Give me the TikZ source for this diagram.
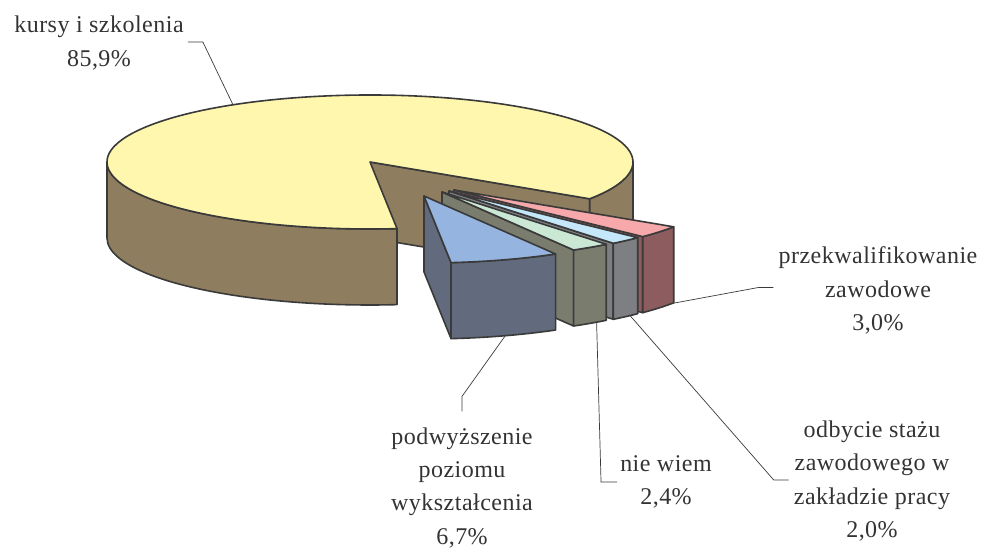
\documentclass[tikz,border=0pt]{standalone}
\usepackage{fontspec}
\setmainfont{Liberation Serif}
\newfontfamily\labelfont[LetterSpace=2]{Liberation Serif}
\usepackage{tikz}
\usetikzlibrary{calc}
\definecolor{kursytop}{HTML}{FFF7AD}
\definecolor{kursyside}{HTML}{8E7D5F}
\definecolor{podwtop}{HTML}{95B4DF}
\definecolor{podwside}{HTML}{626B7D}
\definecolor{niewiemtop}{HTML}{CBE8D5}
\definecolor{niewiemside}{HTML}{7A7C6E}
\definecolor{stazutop}{HTML}{C4E7FA}
\definecolor{stazuside}{HTML}{7D7F82}
\definecolor{przekwtop}{HTML}{F6A8AA}
\definecolor{przekwside}{HTML}{8D5C5F}
\definecolor{edgegray}{HTML}{3A3A3A}
\definecolor{textgray}{HTML}{333333}
\tikzstyle{pie edge}=[draw=edgegray,line width=1.6pt,line join=round]
\tikzstyle{pie radius}=[x radius=263pt,y radius=67pt]
\tikzstyle{label node}=[align=center,text=textgray,inner sep=0pt,font=\labelfont\fontsize{24}{33.3}\selectfont]
\tikzstyle{leader}=[draw=edgegray,line width=0.7pt]

\begin{document}
\begin{tikzpicture}[x=1pt,y=1pt]
\useasboundingbox (0,0) rectangle (981,548);

% big slice
\coordinate (c) at (370,386);
\coordinate (cb) at (370,310);
\draw[pie edge,fill=kursyside] (c) -- ++(-33.34:263pt and 67pt) -- ++(0,-76) -- (cb) -- cycle;
\draw[pie edge,fill=kursyside] ($(c)+(180:263pt and 67pt)$) arc[pie radius,start angle=180,end angle=275.9]
    -- ++(0,-76) arc[pie radius,start angle=275.9,end angle=180] -- cycle;
\draw[pie edge,fill=kursyside] ($(c)+(-33.34:263pt and 67pt)$) arc[pie radius,start angle=-33.34,end angle=0]
    -- ++(0,-76) arc[pie radius,start angle=0,end angle=-33.34] -- cycle;
\draw[pie edge,fill=kursytop] (c) -- ++(-33.34:263pt and 67pt) arc[pie radius,start angle=-33.34,end angle=275.9] -- cycle;
\coordinate (kursytip) at ($(c)+(121.4:263pt and 67pt)$);

% exploded slices, back to front
\foreach \ax/\ay/\ta/\tb/\tl/\ftop/\fside/\name in {
    454/358/-44.14/-33.34/-34/przekwtop/przekwside/przekwtip,
    449/357/-51.34/-44.14/-46.5/stazutop/stazuside/stazutip,
    442/356/-59.98/-51.34/-54/niewiemtop/niewiemside/niewiemtip,
    424/352/-84.1/-59.98/-72/podwtop/podwside/podwtip}{
  \draw[pie edge,fill=\fside] (\ax,\ay) -- ++(\ta:263pt and 67pt) -- ++(0,-76) -- (\ax,\ay-76) -- cycle;
  \draw[pie edge,fill=\fside] ($(\ax,\ay)+(\ta:263pt and 67pt)$) arc[pie radius,start angle=\ta,end angle=\tb]
      -- ++(0,-76) arc[pie radius,start angle=\tb,end angle=\ta] -- cycle;
  \draw[pie edge,fill=\ftop] (\ax,\ay) -- ++(\ta:263pt and 67pt) arc[pie radius,start angle=\ta,end angle=\tb] -- cycle;
  \coordinate (\name) at ($(\ax,\ay-76)+(\tl:263pt and 67pt)$);
}

% labels
\node[label node] (kursy) at (99,505) {kursy i szkolenia\\85,9\%};
\node[label node] (przekw) at (878,257.5) {przekwalifikowanie\\zawodowe\\3,0\%};
\node[label node] (stazu) at (872,67) {odbycie stażu\\zawodowego w\\zakładzie pracy\\2,0\%};
\node[label node] (niewiem) at (666,66) {nie wiem\\2,4\%};
\node[label node] (podw) at (462,60.3) {podwyższenie\\poziomu\\wykształcenia\\6,7\%};

\draw[leader] ([xshift=4pt,yshift=1pt]kursy.east) -- ++(15,0) -- (kursytip);
\draw[leader] ([xshift=-5pt,yshift=3pt]przekw.west) -- ++(-15,0) -- (przekwtip);
\draw[leader] ([xshift=-5pt,yshift=1pt]stazu.west) -- ++(-15,0) -- (stazutip);
\draw[leader] ([xshift=-3pt]niewiem.west) -- ++(-16,0) -- (niewiemtip);
\draw[leader] ([yshift=16pt]podw.north) -- ++(0,15) -- (podwtip);

\end{tikzpicture}
\end{document}
